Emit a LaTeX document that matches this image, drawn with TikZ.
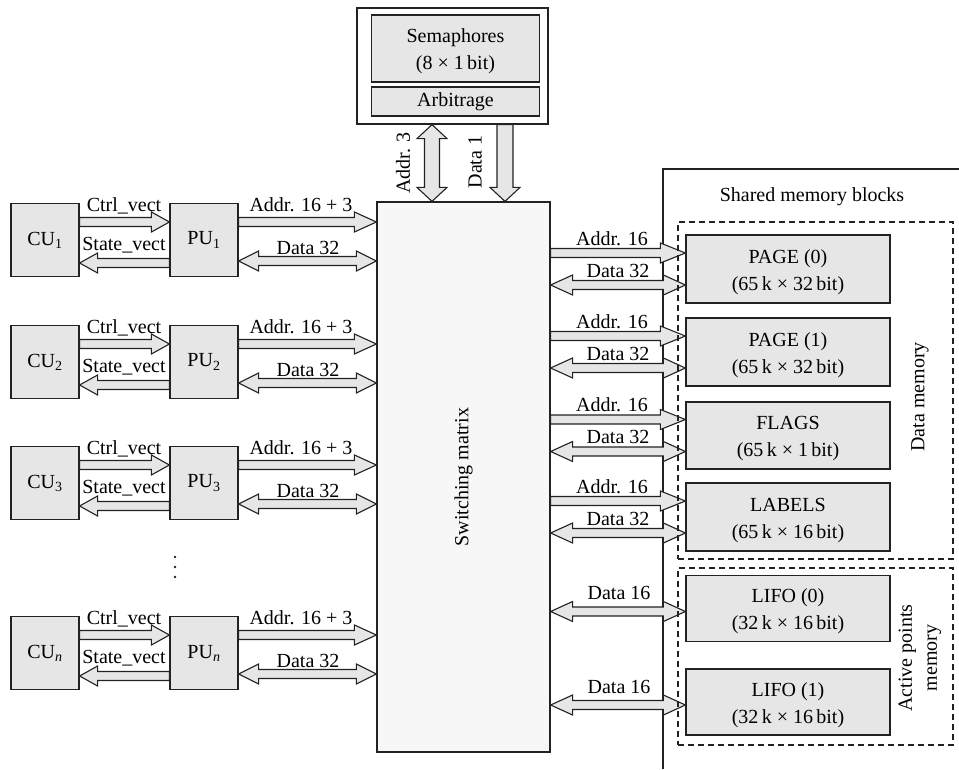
\documentclass[tikz,border=0pt]{standalone}
\usepackage{fontspec}
\setmainfont{Liberation Serif}
\usetikzlibrary{calc}
\definecolor{boxfill}{HTML}{E6E6E6}
\definecolor{swfill}{HTML}{F7F7F7}
\definecolor{edge}{HTML}{222222}
\newcommand\tstrut{\rule{0pt}{20pt}}
% single-headed fat arrow: #1 options, #2 from, #3 to (head), #4 half shaft, #5 half head, #6 head length
\newcommand\fatone[6]{%
  \path #2 coordinate (fa) #3 coordinate (fb);
  \path ($(fb)!#6!(fa)$) coordinate (fh);
  \draw[fat,#1] ($(fa)!#4!90:(fb)$) -- ($(fh)!#4!90:(fb)$) -- ($(fh)!#5!90:(fb)$) -- (fb)
     -- ($(fh)!#5!-90:(fb)$) -- ($(fh)!#4!-90:(fb)$) -- ($(fa)!#4!-90:(fb)$) -- cycle;}
% double-headed fat arrow
\newcommand\fattwo[6]{%
  \path #2 coordinate (fa) #3 coordinate (fb);
  \path ($(fb)!#6!(fa)$) coordinate (fh) ($(fa)!#6!(fb)$) coordinate (fg);
  \draw[fat,#1] (fa) -- ($(fg)!#5!90:(fb)$) -- ($(fg)!#4!90:(fb)$) -- ($(fh)!#4!90:(fb)$)
     -- ($(fh)!#5!90:(fb)$) -- (fb) -- ($(fh)!#5!-90:(fb)$) -- ($(fh)!#4!-90:(fb)$)
     -- ($(fg)!#4!-90:(fb)$) -- ($(fg)!#5!-90:(fb)$) -- cycle;}
\tikzset{
  x=1pt, y=-1pt,
  every node/.style={font=\fontsize{20}{27}\selectfont},
  box/.style={draw=edge, line width=1.2pt, fill=boxfill, inner sep=0pt, align=center},
  fat/.style={draw=edge, line width=1.1pt, fill=boxfill, line join=miter},
  lbl/.style={anchor=base, inner sep=0pt},
  dashbox/.style={draw=edge, line width=1.1pt, dash pattern=on 6pt off 4pt, inner sep=0pt},
  plainbox/.style={draw=edge, line width=1.2pt, inner sep=0pt},
}
\begin{document}
\begin{tikzpicture}
\useasboundingbox (0,0) rectangle (959,769);
% ---------- semaphores ----------
\node[plainbox, fill=white, minimum width=191, minimum height=116] (semout) at (452.5,66) {};
\node[box, minimum width=168, minimum height=67] (sem) at (455.5,48.5) {\tstrut Semaphores\\(8 × 1\,bit)};
\node[box, minimum width=168, minimum height=29] (arb) at (455.5,101.5) {Arbitrage};
% ---------- switching matrix ----------
\node[plainbox, fill=swfill, minimum width=173, minimum height=550] (sw) at (463.5,477) {};
\node[rotate=90] (swl) at (sw.center) {Switching matrix};
% ---------- vertical arrows ----------
\coordinate (ax) at (432,0);
\coordinate (dx) at (505,0);
\fattwo{}{(semout.south -| ax)}{(sw.north -| ax)}{7.5pt}{15pt}{14pt}
\fatone{}{(semout.south -| dx)}{(sw.north -| dx)}{8pt}{15pt}{14pt}
\node[rotate=90] (la3) at (403,163) {Addr. 3};
\node[rotate=90] (ld1) at (475,162) {Data 1};
% ---------- CU / PU rows ----------
\foreach \i/\yc/\s in {1/240/1,2/362/2,3/483/3,n/653/\textit{n}} {
  \node[box, minimum width=68, minimum height=73] (cu\i) at (45,\yc) {CU\textsubscript{\s}};
  \node[box, minimum width=68, minimum height=73] (pu\i) at (204,\yc) {PU\textsubscript{\s}};
  \path ([yshift=18pt]cu\i.east) coordinate (ca\i)
        ([yshift=-23pt]pu\i.west) coordinate (cs\i)
        ([yshift=18pt]pu\i.east) coordinate (pa\i)
        ([yshift=-21pt]pu\i.east) coordinate (pd\i);
  \fatone{}{(ca\i)}{(ca\i -| pu\i.west)}{4.5pt}{10pt}{18pt}
  \fatone{}{(cs\i)}{(cs\i -| cu\i.east)}{4.5pt}{10pt}{18pt}
  \fatone{}{(pa\i)}{(pa\i -| sw.west)}{4.5pt}{10pt}{22pt}
  \fattwo{}{(pd\i)}{(pd\i -| sw.west)}{4.5pt}{10pt}{20pt}
  \node[lbl] (lc\i) at (124,{\yc-29}) {Ctrl\_vect};
  \node[lbl] (ls\i) at (124,{\yc+10}) {State\_vect};
  \node[lbl] (la\i) at (301,{\yc-29}) {Addr. 16 + 3};
  \node[lbl] (ldd\i) at (308,{\yc+14}) {Data 32};
}
\foreach \yy in {557,567,577} \fill[edge] (175,\yy) circle[radius=1.4pt];
% ---------- shared memory area ----------
\draw[edge, line width=1.2pt] (959,169) -| (663,769);
\node (smb) at (812,197) {Shared memory blocks};
\node[box, minimum width=204, minimum height=68] (m1) at (788,269) {\tstrut PAGE (0)\\(65\,k × 32\,bit)};
\node[box, minimum width=204, minimum height=68] (m2) at (788,352) {\tstrut PAGE (1)\\(65\,k × 32\,bit)};
\node[box, minimum width=204, minimum height=67] (m3) at (788,435.5) {\tstrut FLAGS\\(65\,k × 1\,bit)};
\node[box, minimum width=204, minimum height=68] (m4) at (788,517) {\tstrut LABELS\\(65\,k × 16\,bit)};
\node[box, minimum width=204, minimum height=66] (m5) at (788,608.5) {\tstrut LIFO (0)\\(32\,k × 16\,bit)};
\node[box, minimum width=204, minimum height=66] (m6) at (788,702) {\tstrut LIFO (1)\\(32\,k × 16\,bit)};
\foreach \j/\yc in {1/269,2/352,3/435.5,4/517} {
  \path ([yshift=16pt]m\j.west) coordinate (ra\j) ([yshift=-16pt]m\j.west) coordinate (rd\j);
  \fatone{}{(ra\j -| sw.east)}{(ra\j)}{4.5pt}{10pt}{25pt}
  \fattwo{}{(rd\j -| sw.east)}{(rd\j)}{4.5pt}{10pt}{22pt}
  \node[lbl] (ra\j l) at (612,{\yc-24}) {Addr. 16};
  \node[lbl] (rd\j l) at (618,{\yc+8}) {Data 32};
}
\foreach \j/\yc in {5/608.5,6/702} {
  \path ([yshift=-3pt]m\j.west) coordinate (rd\j);
  \fattwo{}{(rd\j -| sw.east)}{(rd\j)}{4.5pt}{10pt}{22pt}
  \node[lbl] (rd\j l) at (619,{\yc-9}) {Data 16};
}
\node[dashbox, minimum width=275, minimum height=337] (dm) at (815.5,390.5) {};
\node[dashbox, minimum width=275, minimum height=177] (apm) at (815.5,656.5) {};
\node[rotate=90] (dml) at (920,397) {Data memory};
\node[rotate=90, align=center, font=\fontsize{20}{25}\selectfont] (apml) at (920,658) {Active points\\memory};
\end{tikzpicture}
\end{document}
